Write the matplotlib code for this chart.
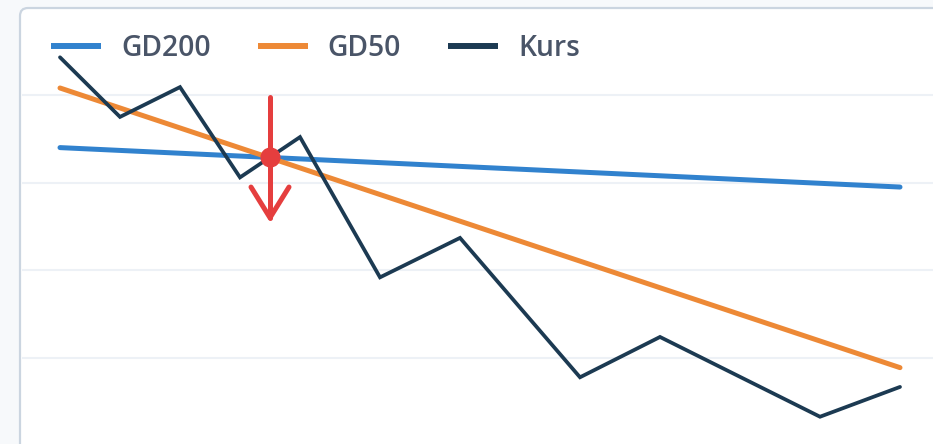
import matplotlib
matplotlib.use("Agg")
import matplotlib.pyplot as plt
from matplotlib.patches import FancyBboxPatch

# Daten (x = Handelstag, y = Kurs)
tage = [0, 3, 6, 9, 12, 16, 20, 26, 30, 38, 42]
kurs = [114.3, 107.5, 110.9, 100.6, 105.2, 89.2, 93.7, 77.8, 82.4, 73.3, 76.7]
gd200_x = [0, 42]
gd200 = [104.0, 99.5]
gd50_x = [0, 42]
gd50 = [110.8, 78.9]
# Verkaufssignal (Schnittpunkt GD50 / GD200)
signal_x = 10.5
signal_y = 102.9
pfeil_oben = 109.8
pfeil_unten = 96.0

BLAU = "#3182ce"
ORANGE = "#ed8936"
NAVY = "#1c3a52"
ROT = "#e53e3e"
TEXT = "#4a5568"

W, H = 933, 444
fig = plt.figure(figsize=(W / 100, H / 100), dpi=100)
fig.patch.set_facecolor("#f7f9fb")

# Karte mit Rahmen
karte = FancyBboxPatch((20 / 100, -0.5), 20, (H - 8) / 100 + 0.5,
                       boxstyle="round,pad=0,rounding_size=0.08",
                       transform=fig.dpi_scale_trans, facecolor="white",
                       edgecolor="#cbd5e0", linewidth=1.6, zorder=-10)
fig.patches.append(karte)

ax = fig.add_axes([22 / W, 0, (W - 22) / W, (H - 9) / H])
ax.set_facecolor("none")
ax.set_zorder(1)
for s in ax.spines.values():
    s.set_visible(False)
ax.set_xticks([])
ax.set_yticks([80, 90, 100, 110])
ax.tick_params(left=False, labelleft=False)
ax.grid(axis="y", color="#edf1f6", linewidth=1.5)
ax.set_axisbelow(True)

ax.plot(gd200_x, gd200, color=BLAU, lw=3.6, solid_capstyle="round", label="GD200", zorder=2)
ax.plot(gd50_x, gd50, color=ORANGE, lw=3.6, solid_capstyle="round", label="GD50", zorder=3)
ax.plot(tage, kurs, color=NAVY, lw=2.7, solid_capstyle="round", solid_joinstyle="miter",
        label="Kurs", zorder=4)

# Pfeil nach unten
ax.plot([signal_x, signal_x], [pfeil_oben, pfeil_unten], color=ROT, lw=3.6,
        solid_capstyle="round", zorder=5)
ax.plot([signal_x - 0.95, signal_x, signal_x + 0.95],
        [pfeil_unten + 3.5, pfeil_unten, pfeil_unten + 3.5], color=ROT, lw=3.6,
        solid_capstyle="round", solid_joinstyle="round", zorder=5)
ax.plot([signal_x], [signal_y], "o", color=ROT, markersize=13.5, zorder=6)

ax.set_xlim(-1.9, 43.65)
ax.set_ylim(70.19, 119.81)

fs = 20.3
fpx = fs * 100 / 72
leg = ax.legend(loc="center left", bbox_to_anchor=(51 / W, 1 - 48 / H),
                bbox_transform=fig.transFigure, ncol=3, frameon=False,
                prop={"family": "Open Sans", "size": fs, "weight": "semibold"},
                handlelength=50 / fpx, handletextpad=20 / fpx,
                columnspacing=47 / fpx, borderaxespad=0.0, borderpad=0.0)
for t in leg.get_texts():
    t.set_color(TEXT)
for l in leg.get_lines():
    l.set_linewidth(4.3)
    l.set_solid_capstyle("butt")

fig.savefig("out.png", dpi=100)
